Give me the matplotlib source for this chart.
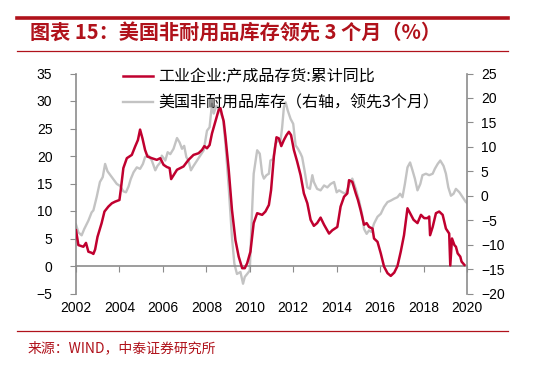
import matplotlib
matplotlib.use('Agg')
import matplotlib.pyplot as plt
from matplotlib.lines import Line2D
import matplotlib.transforms as mtransforms

# 工业企业:产成品存货:累计同比 (left axis, %)
red_x = [2002.0, 2002.11, 2002.34, 2002.46, 2002.57, 2002.72, 2002.80, 2002.88, 2002.99, 2003.18,
         2003.31, 2003.49, 2003.65, 2003.80, 2004.0, 2004.06, 2004.18, 2004.34, 2004.57, 2004.72,
         2004.85, 2004.95, 2005.06, 2005.18, 2005.29, 2005.49, 2005.72, 2005.88, 2006.03, 2006.18,
         2006.31, 2006.38, 2006.49, 2006.65, 2006.80, 2006.95, 2007.18, 2007.41, 2007.64, 2007.80,
         2007.91, 2008.03, 2008.15, 2008.26, 2008.41, 2008.57, 2008.65, 2008.72, 2008.80, 2008.88,
         2009.03, 2009.18, 2009.34, 2009.49, 2009.65, 2009.77, 2009.88, 2010.03, 2010.18, 2010.34,
         2010.57, 2010.72, 2010.88, 2010.98, 2011.11, 2011.23, 2011.34, 2011.45, 2011.57, 2011.69,
         2011.80, 2011.90, 2012.03, 2012.18, 2012.34, 2012.49, 2012.65, 2012.80, 2012.95, 2013.10,
         2013.26, 2013.42, 2013.65, 2013.80, 2014.03, 2014.18, 2014.34, 2014.49, 2014.57, 2014.72,
         2014.88, 2014.98, 2015.10, 2015.26, 2015.38, 2015.49, 2015.65, 2015.72, 2015.88, 2016.03,
         2016.18, 2016.34, 2016.49, 2016.65, 2016.80, 2016.95, 2017.10, 2017.26, 2017.38, 2017.54,
         2017.72, 2017.88, 2018.03, 2018.18, 2018.26, 2018.30, 2018.42, 2018.57, 2018.72, 2018.88,
         2019.03, 2019.18, 2019.23, 2019.31, 2019.42, 2019.49, 2019.57, 2019.69, 2019.75, 2019.88]
red_y = [6.5, 3.8, 3.5, 4.2, 2.6, 2.4, 2.2, 3.0, 5.3, 7.8,
         9.9, 10.8, 11.4, 11.7, 12.0, 13.8, 17.8, 19.6, 20.2, 21.7,
         22.9, 24.8, 23.2, 21.1, 19.9, 19.6, 19.3, 19.6, 18.4, 18.0,
         17.8, 15.8, 16.5, 17.5, 17.8, 18.1, 19.3, 20.2, 20.5, 21.1,
         21.8, 21.4, 22.0, 24.1, 26.2, 28.4, 28.7, 27.5, 26.3, 23.5,
         17.5, 10.2, 4.7, 1.7, -0.4, -0.4, 0.5, 2.6, 7.8, 9.6,
         9.3, 9.9, 11.1, 13.8, 19.9, 23.4, 23.2, 21.8, 22.9, 23.8,
         24.4, 23.8, 21.1, 19.0, 16.5, 13.2, 11.4, 8.4, 7.3, 7.8,
         8.8, 7.5, 5.9, 6.5, 7.1, 10.8, 12.6, 13.2, 15.6, 15.3,
         13.2, 12.0, 10.2, 7.5, 7.8, 7.1, 6.8, 5.0, 4.4, 2.3,
         -0.1, -1.3, -1.8, -1.2, 0.0, 2.6, 5.6, 10.5, 9.6, 8.4,
         7.8, 9.3, 8.7, 8.7, 9.0, 5.6, 7.1, 9.6, 9.9, 9.3,
         6.8, 5.9, 0.1, 5.0, 3.8, 3.5, 2.3, 1.7, 0.8, 0.2]

# 美国非耐用品库存 (right axis, lead 3 months)
gray_x = [2002.0, 2002.11, 2002.26, 2002.38, 2002.57, 2002.72, 2002.80, 2002.95, 2003.10, 2003.23,
          2003.34, 2003.45, 2003.60, 2003.72, 2003.88, 2004.03, 2004.18, 2004.30, 2004.42, 2004.52,
          2004.65, 2004.80, 2004.95, 2005.08, 2005.18, 2005.34, 2005.49, 2005.65, 2005.75, 2005.88,
          2005.95, 2006.11, 2006.22, 2006.34, 2006.49, 2006.65, 2006.77, 2006.88, 2006.98, 2007.08,
          2007.18, 2007.29, 2007.41, 2007.57, 2007.72, 2007.88, 2008.03, 2008.15, 2008.26, 2008.34,
          2008.46, 2008.57, 2008.65, 2008.77, 2008.88, 2009.03, 2009.18, 2009.29, 2009.41, 2009.57,
          2009.69, 2009.77, 2009.88, 2010.0, 2010.10, 2010.18, 2010.34, 2010.46, 2010.57, 2010.65,
          2010.77, 2010.88, 2010.95, 2011.08, 2011.18, 2011.29, 2011.41, 2011.49, 2011.57, 2011.65,
          2011.75, 2011.88, 2012.0, 2012.11, 2012.22, 2012.34, 2012.41, 2012.52, 2012.65, 2012.77,
          2012.88, 2012.95, 2013.10, 2013.26, 2013.42, 2013.57, 2013.72, 2013.88, 2014.0, 2014.11,
          2014.26, 2014.41, 2014.57, 2014.72, 2014.88, 2015.03, 2015.18, 2015.26, 2015.38, 2015.49,
          2015.60, 2015.72, 2015.88, 2016.03, 2016.18, 2016.34, 2016.49, 2016.65, 2016.80, 2016.92,
          2017.03, 2017.14, 2017.26, 2017.38, 2017.49, 2017.60, 2017.72, 2017.85, 2017.95, 2018.11,
          2018.26, 2018.42, 2018.52, 2018.65, 2018.77, 2018.92, 2019.03, 2019.14, 2019.26, 2019.38,
          2019.49, 2019.65, 2019.80, 2019.95, 2020.04]
gray_y = [-5.9, -7.5, -8.1, -6.8, -5.1, -3.4, -3.0, -0.3, 2.8, 3.8,
          6.5, 5.0, 4.1, 3.4, 2.4, 2.0, 0.9, 0.7, 1.9, 3.4,
          4.8, 5.8, 5.5, 6.5, 7.9, 8.2, 7.2, 5.2, 6.1, 6.8,
          8.2, 7.2, 8.9, 8.5, 9.6, 11.8, 10.9, 9.6, 10.2, 7.9,
          7.2, 5.2, 6.1, 7.2, 8.2, 9.3, 13.3, 14.0, 18.8, 16.8,
          18.4, 17.8, 17.1, 15.7, 10.6, 1.7, -8.5, -13.9, -16.0, -15.6,
          -18.0, -16.6, -16.0, -15.3, -3.7, 4.5, 9.3, 8.6, 4.5, 3.5,
          4.2, 4.5, 7.2, 7.5, 10.6, 11.3, 11.0, 14.0, 18.1, 19.1,
          17.4, 15.7, 14.7, 10.3, 9.6, 8.6, 7.9, 5.2, 1.7, 1.4,
          4.2, 2.8, 1.4, 1.1, 2.1, 1.7, 2.4, 2.8, 0.7, 1.1,
          0.7, 0.4, 2.1, 3.5, 1.4, -1.0, -4.0, -6.8, -7.8, -7.1,
          -7.4, -5.7, -4.3, -3.7, -2.3, -1.3, -1.0, -0.6, -0.3, 0.4,
          -0.3, 2.4, 5.8, 6.8, 5.2, 3.5, 1.1, 2.4, 4.2, 4.5,
          4.2, 4.5, 5.5, 6.5, 7.2, 6.1, 4.5, 1.7, 0.0, 0.4,
          1.4, 0.7, -0.3, -1.3, -1.6]

years = [2002, 2004, 2006, 2008, 2010, 2012, 2014, 2016, 2018, 2020]
left_ticks = [-5, 0, 5, 10, 15, 20, 25, 30, 35]
right_ticks = [-20, -15, -10, -5, 0, 5, 10, 15, 20, 25]

title = '图表 15：美国非耐用品库存领先 3 个月（%）'
source = '来源：WIND，中泰证券研究所'
red_label = '工业企业:产成品存货:累计同比'
gray_label = '美国非耐用品库存（右轴，领先3个月）'

cjk = ['Noto Sans CJK SC', 'DejaVu Sans']
num_font = ['Liberation Sans', 'DejaVu Sans']
plt.rcParams['font.family'] = num_font

dark_red = '#B0121B'
red = '#C0002F'
gray = '#C3C3C3'
axis_gray = '#8C8C8C'

W, H = 549, 377
fig = plt.figure(figsize=(W / 100, H / 100), dpi=100)

ax = fig.add_axes([76 / W, 1 - 293.5 / H, 391 / W, 220 / H])
ax2 = ax.twinx()

ax.plot(red_x, red_y, color=red, lw=1.8, label=red_label, zorder=3)
ax2.plot(gray_x, gray_y, color=gray, lw=1.7, label=gray_label)
# red on top
ax.set_zorder(ax2.get_zorder() + 1)
ax.patch.set_visible(False)

ax.set_xlim(2002, 2020)
ax.set_ylim(-5, 35)
ax2.set_ylim(-20, 25)
ax.set_yticks(left_ticks)
ax2.set_yticks(right_ticks)
ax.set_xticks(years)

for s in ['top', 'right']:
    ax.spines[s].set_visible(False)
for s in ['top', 'left', 'bottom']:
    ax2.spines[s].set_visible(False)
ax.spines['bottom'].set_position(('data', 0))
for sp in [ax.spines['left'], ax.spines['bottom'], ax2.spines['right']]:
    sp.set_color(axis_gray)
    sp.set_linewidth(1.2)

ax.tick_params(axis='x', direction='out', length=4, color=axis_gray, labelbottom=False)
ax.tick_params(axis='y', direction='out', length=4, color=axis_gray, pad=13, labelsize=10)
ax2.tick_params(axis='y', direction='out', length=4, color=axis_gray, pad=6, labelsize=10)

# year labels sit at the bottom, below the zero line
trans = mtransforms.blended_transform_factory(ax.transData, ax.transAxes)
for yr in years:
    ax.text(yr, -0.066, str(yr), transform=trans, ha='center', va='center', fontsize=10)

h1, l1 = ax.get_legend_handles_labels()
h2, l2 = ax2.get_legend_handles_labels()
fig.legend(h1 + h2, l1 + l2, loc='upper left', bbox_to_anchor=(123 / W, 1 - 68.5 / H),
           frameon=False, prop={'family': cjk, 'size': 11.5, 'weight': 'light'},
           handlelength=1.9, handletextpad=0.3, labelspacing=0.55, borderpad=0, borderaxespad=0)

# header / footer decoration
fig.add_artist(Line2D([17 / W, 508 / W], [1 - 17.5 / H] * 2, color=dark_red, lw=2.6))
fig.add_artist(Line2D([17 / W, 508 / W], [1 - 50.5 / H] * 2, color=dark_red, lw=0.9))
fig.add_artist(Line2D([17 / W, 508 / W], [1 - 331 / H] * 2, color=dark_red, lw=0.9))

fig.text(30 / W, 1 - 33.5 / H, title, color=dark_red, fontsize=14.5, fontweight='bold',
         family=cjk, va='center', ha='left')
fig.text(28 / W, 1 - 348 / H, source, color=dark_red, fontsize=10, family=cjk,
         va='center', ha='left')

fig.savefig('out.png', dpi=100)
